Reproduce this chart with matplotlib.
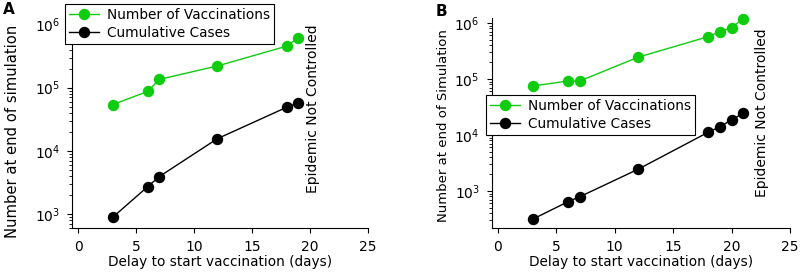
import numpy as np
import matplotlib
matplotlib.use('Agg')
import matplotlib.pyplot as plt

plt.rcParams['font.family'] = ['DejaVu Sans']
plt.rcParams['mathtext.fontset'] = 'dejavusans'

green = '#0fcc0f'

# panel A
delay_a = [3, 6, 7, 12, 18, 19]
vacc_a = [54000, 87000, 135000, 220000, 455000, 620000]
cases_a = [890, 2700, 3900, 15500, 49000, 57000]

# panel B
delay_b = [3, 6, 7, 12, 18, 19, 20, 21]
vacc_b = [75000, 92000, 92000, 245000, 570000, 700000, 820000, 1200000]
cases_b = [316, 645, 790, 2450, 11200, 14000, 18700, 24500]

xticks = [0, 5, 10, 15, 20, 25]

fig = plt.figure(figsize=(8.02, 2.76), dpi=100)
ax_a = fig.add_axes([0.0898, 0.174, 0.369, 0.79])
ax_b = fig.add_axes([0.613, 0.174, 0.372, 0.761])


def style(ax, xlim, ylim, ylabel, ysize, lab_xy):
    ax.set_yscale('log')
    ax.set_xlim(*xlim)
    ax.set_ylim(*ylim)
    ax.set_xticks(xticks)
    ax.spines['top'].set_visible(False)
    ax.spines['right'].set_visible(False)
    ax.tick_params(axis='both', which='major', direction='out', length=3.6, width=0.8, labelsize=10, pad=5)
    ax.tick_params(axis='y', which='minor', direction='out', length=2.0, width=0.6)
    ax.set_xlabel('Delay to start vaccination (days)', fontsize=9.8, labelpad=1)
    ax.set_ylabel(ylabel, fontsize=ysize)
    ax.yaxis.set_label_coords(*lab_xy)


for ax, d, v, c in [(ax_a, delay_a, vacc_a, cases_a), (ax_b, delay_b, vacc_b, cases_b)]:
    ax.plot(d, v, '-o', color=green, lw=1, ms=7.2, label='Number of Vaccinations', clip_on=False)
    ax.plot(d, c, '-o', color='black', lw=1, ms=7.2, label='Cumulative Cases', clip_on=False)

style(ax_a, (-0.52, 25), (600, 1.7e6), 'Number at end of simulation', 10.6, (-0.176, 0.445))
style(ax_b, (-0.54, 25), (219, 1.23e6), 'Number at end of Simulation', 9.5, (-0.14, 0.488))

ax_a.text(20.26, 4.6e4, 'Epidemic Not Controlled', rotation=90, ha='center', va='center', fontsize=10)
ax_b.text(22.6, 2.5e4, 'Epidemic Not Controlled', rotation=90, ha='center', va='center', fontsize=10)

leg_kw = dict(fontsize=9.8, frameon=True, fancybox=False, edgecolor='black', framealpha=1,
              handlelength=2.2, borderpad=0.3, labelspacing=0.3, handletextpad=0.6, borderaxespad=0)
la = ax_a.legend(loc='upper left', bbox_to_anchor=(65 / 802, 1 - 4 / 276), bbox_transform=fig.transFigure, **leg_kw)
lb = ax_b.legend(loc='upper left', bbox_to_anchor=(486 / 802, 1 - 95 / 276), bbox_transform=fig.transFigure, **leg_kw)
for lg in (la, lb):
    lg.get_frame().set_linewidth(0.8)

fig.text(9 / 802, 1 - 10 / 276, 'A', fontsize=11, fontweight='bold', ha='center', va='center')
fig.text(441 / 802, 1 - 12 / 276, 'B', fontsize=11, fontweight='bold', ha='center', va='center')

fig.savefig('out.png', dpi=100)
